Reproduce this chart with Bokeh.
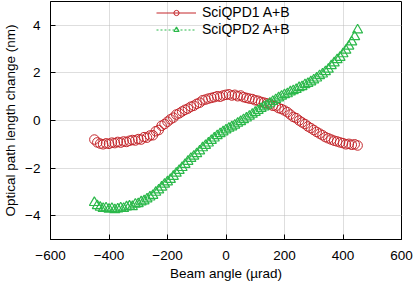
from bokeh.plotting import figure
from bokeh.models import Range1d, FixedTicker, Legend, LegendItem, ColumnDataSource
from bokeh.embed import file_html
from bokeh.resources import INLINE

# Beam angle (µrad)
angle = [-450, -440, -430, -420, -410, -400, -390, -380, -370, -360,
         -350, -340, -330, -320, -310, -300, -290, -280, -270, -260,
         -250, -240, -230, -220, -210, -200, -190, -180, -170, -160,
         -150, -140, -130, -120, -110, -100, -90, -80, -70, -60,
         -50, -40, -30, -20, -10, 0, 10, 20, 30, 40,
         50, 60, 70, 80, 90, 100, 110, 120, 130, 140,
         150, 160, 170, 180, 190, 200, 210, 220, 230, 240,
         250, 260, 270, 280, 290, 300, 310, 320, 330, 340,
         350, 360, 370, 380, 390, 400, 410, 420, 430, 440, 450]

qpd1 = [-0.80, -0.92, -0.97, -1.00, -0.96, -0.98, -0.93, -0.95, -0.90, -0.93,
        -0.88, -0.90, -0.85, -0.82, -0.84, -0.78, -0.80, -0.70, -0.72, -0.63,
        -0.62, -0.45, -0.40, -0.22, -0.15, -0.05, 0.05, 0.12, 0.25, 0.30,
        0.38, 0.45, 0.50, 0.58, 0.62, 0.70, 0.75, 0.85, 0.88, 0.92,
        0.95, 0.98, 1.02, 1.00, 1.05, 1.08, 1.10, 1.05, 1.08, 1.02,
        1.05, 0.98, 0.95, 0.92, 0.90, 0.85, 0.83, 0.78, 0.75, 0.72,
        0.68, 0.62, 0.60, 0.52, 0.48, 0.42, 0.35, 0.25, 0.15, 0.10,
        0.00, -0.08, -0.15, -0.25, -0.32, -0.40, -0.48, -0.55, -0.62, -0.70,
        -0.75, -0.80, -0.85, -0.88, -0.92, -0.95, -1.00, -0.98, -1.02, -1.00, -1.05]

qpd2 = [-3.45, -3.58, -3.65, -3.70, -3.68, -3.73, -3.70, -3.75, -3.72, -3.68,
        -3.70, -3.63, -3.60, -3.62, -3.52, -3.50, -3.42, -3.38, -3.30, -3.22,
        -3.15, -3.02, -2.92, -2.80, -2.68, -2.58, -2.48, -2.35, -2.22, -2.10,
        -1.98, -1.85, -1.72, -1.60, -1.50, -1.40, -1.28, -1.15, -1.05, -0.95,
        -0.84, -0.74, -0.64, -0.56, -0.48, -0.40, -0.33, -0.27, -0.20, -0.12,
        -0.05, 0.03, 0.10, 0.18, 0.26, 0.34, 0.42, 0.50, 0.57, 0.64,
        0.72, 0.80, 0.87, 0.95, 1.02, 1.08, 1.12, 1.20, 1.25, 1.30,
        1.38, 1.42, 1.50, 1.55, 1.62, 1.70, 1.78, 1.88, 1.95, 2.05,
        2.15, 2.30, 2.42, 2.55, 2.65, 2.80, 2.95, 3.12, 3.30, 3.52, 3.80]

series_names = ["SciQPD1 A+B", "SciQPD2 A+B"]
x_ticks = [-600, -400, -200, 0, 200, 400, 600]
x_tick_labels = ["\u2212600", "\u2212400", "\u2212200", "0", "200", "400", "600"]
y_ticks = [-4, -2, 0, 2, 4]
y_tick_labels = ["\u22124", "\u22122", "0", "2", "4"]

RED = "#c4262b"
GREEN = "#2bb84a"
FONT = "Liberation Sans"

p = figure(width=415, height=284, output_backend="svg", toolbar_location=None,
           x_range=Range1d(-600, 600), y_range=Range1d(-5, 5),
           min_border_left=47, min_border_right=14, min_border_top=1, min_border_bottom=45)

p.outline_line_color = "black"
p.outline_line_width = 1
p.outline_line_alpha = 1

for ax in (p.xaxis[0], p.yaxis[0]):
    ax.major_label_text_font = FONT
    ax.major_label_text_font_size = "13.5px"
    ax.major_label_text_color = "black"
    ax.axis_label_text_font = FONT
    ax.axis_label_text_font_size = "13.5px"
    ax.axis_label_text_font_style = "normal"
    ax.axis_label_text_color = "black"
    ax.major_tick_in = 5
    ax.major_tick_out = 0
    ax.minor_tick_in = 0
    ax.minor_tick_out = 0
    ax.major_tick_line_color = "black"
    ax.axis_line_color = "black"

p.xaxis.ticker = FixedTicker(ticks=x_ticks)
p.xaxis.major_label_overrides = dict(zip(x_ticks, x_tick_labels))
p.yaxis.ticker = FixedTicker(ticks=y_ticks)
p.yaxis.major_label_overrides = dict(zip(y_ticks, y_tick_labels))
p.xaxis.axis_label = "Beam angle (\u00b5rad)"
p.yaxis.axis_label = "Optical path length change (nm)"
p.xaxis.major_label_standoff = 11
p.xaxis.axis_label_standoff = 3
p.yaxis.major_label_standoff = 10
p.yaxis.axis_label_standoff = 4

p.grid.grid_line_color = "#bdbdbd"
p.grid.grid_line_dash = "1 1"
p.grid.grid_line_width = 1

src = ColumnDataSource(dict(x=angle, y1=qpd1, y2=qpd2))
# legend-only line samples (a single missing point, so nothing is drawn in the plot)
blank = ColumnDataSource(dict(x=[float("nan")], y=[float("nan")]))

r1 = p.scatter("x", "y1", source=src, marker="circle", size=9.5,
               fill_color=None, line_color=RED, line_width=1)
r2 = p.scatter("x", "y2", source=src, marker="triangle", size=10,
               fill_color=None, line_color=GREEN, line_width=1.2)
l1 = p.line("x", "y", source=blank, line_color=RED, line_width=1)
l2 = p.line("x", "y", source=blank, line_color=GREEN, line_width=1, line_dash="2 2")

legend = Legend(items=[LegendItem(label=series_names[0], renderers=[l1, r1]),
                       LegendItem(label=series_names[1], renderers=[l2, r2])],
                location=(106, 202))
legend.background_fill_alpha = 0
legend.border_line_alpha = 0
legend.label_text_font = FONT
legend.label_text_font_size = "14px"
legend.label_text_color = "black"
legend.glyph_width = 40
legend.glyph_height = 13
legend.label_height = 13
legend.spacing = 1
legend.padding = 0
legend.margin = 0
legend.label_standoff = 6
p.add_layout(legend)

open("out.html", "w").write(file_html(p, INLINE))
